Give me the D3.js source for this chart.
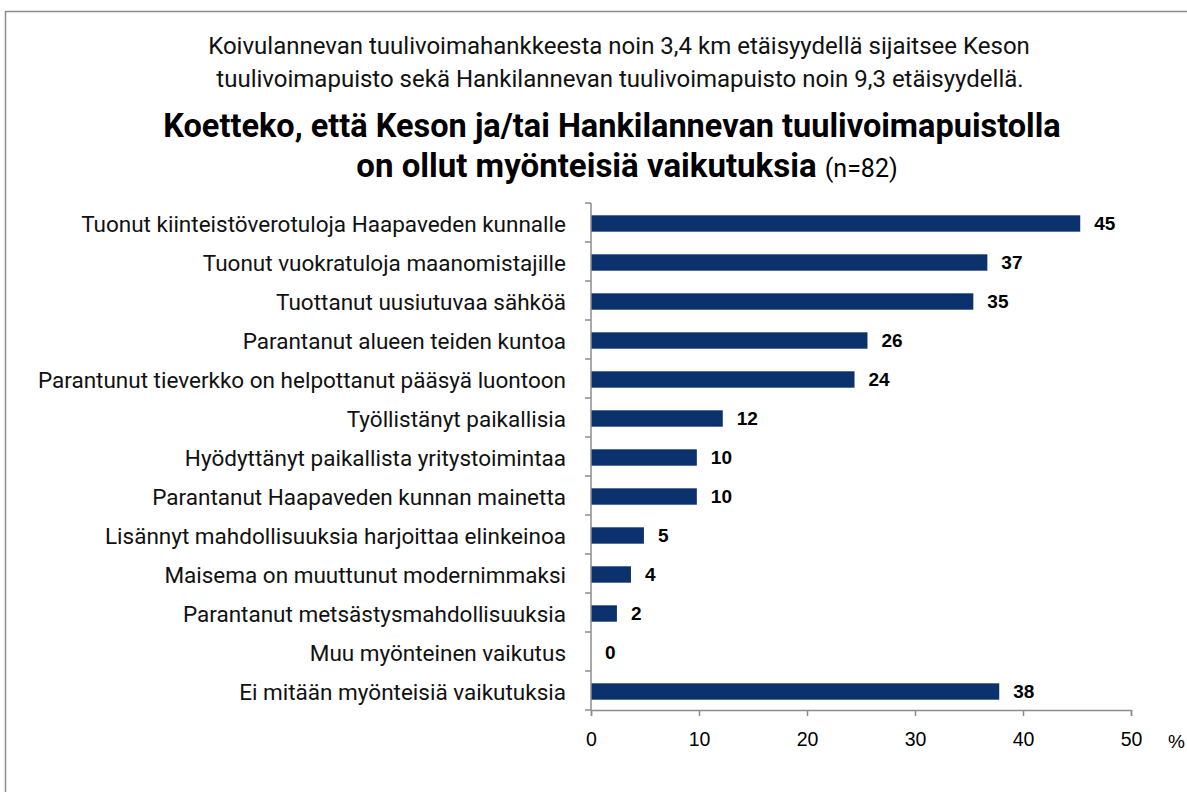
<!DOCTYPE html>
<html lang="fi">
<head>
<meta charset="utf-8">
<title>Myönteiset vaikutukset</title>
<script src="https://d3js.org/d3.v7.min.js"></script>
<style>
  body { margin: 0; background: #fff; }
  svg { display: block; }
</style>
</head>
<body>
<div id="chart"></div>
<script>
// categories and values (%)
const categories = [
  "Tuonut kiinteistöverotuloja Haapaveden kunnalle",
  "Tuonut vuokratuloja maanomistajille",
  "Tuottanut uusiutuvaa sähköä",
  "Parantanut alueen teiden kuntoa",
  "Parantunut tieverkko on helpottanut pääsyä luontoon",
  "Työllistänyt paikallisia",
  "Hyödyttänyt paikallista yritystoimintaa",
  "Parantanut Haapaveden kunnan mainetta",
  "Lisännyt mahdollisuuksia harjoittaa elinkeinoa",
  "Maisema on muuttunut modernimmaksi",
  "Parantanut metsästysmahdollisuuksia ",
  "Muu myönteinen vaikutus",
  "Ei mitään myönteisiä vaikutuksia"
];
const values = [45.3, 36.7, 35.4, 25.6, 24.4, 12.2, 9.8, 9.8, 4.9, 3.7, 2.4, 0, 37.8];
const xTicks = [0, 10, 20, 30, 40, 50];

const width = 1187, height = 792;
const svg = d3.select("#chart").append("svg")
  .attr("width", width)
  .attr("height", height);

// outer frame
svg.append("rect")
  .attr("x", 5.5).attr("y", 11.5)
  .attr("width", width + 10).attr("height", height + 10)
  .attr("fill", "none")
  .attr("stroke", "#8c8c8c")
  .attr("stroke-width", 1.5);

// titles
const sub = svg.append("g")
  .attr("font-family", "Roboto, sans-serif")
  .attr("font-size", 24)
  .attr("fill", "#111")
  .attr("text-anchor", "middle");
sub.append("text").attr("x", 619).attr("y", 54)
  .text("Koivulannevan tuulivoimahankkeesta noin 3,4 km etäisyydellä sijaitsee Keson");
sub.append("text").attr("x", 620).attr("y", 87)
  .text("tuulivoimapuisto sekä Hankilannevan tuulivoimapuisto noin 9,3 etäisyydellä.");

const title = svg.append("g")
  .attr("font-family", "Roboto, sans-serif")
  .attr("fill", "#000")
  .attr("text-anchor", "middle");
title.append("text").attr("x", 612).attr("y", 137)
  .attr("font-size", 32.5).attr("font-weight", "bold")
  .text("Koetteko, että Keson ja/tai Hankilannevan tuulivoimapuistolla");
const t2 = title.append("text").attr("x", 627).attr("y", 177);
t2.append("tspan").attr("font-size", 33).attr("font-weight", "bold")
  .text("on ollut myönteisiä vaikutuksia ");
t2.append("tspan").attr("font-size", 25).text("(n=82)");

// scales
const x = d3.scaleLinear().domain([0, 50]).range([591, 1131]);
const y = d3.scaleBand().domain(categories).range([203, 710]).paddingInner(0.58).paddingOuter(0.29);

const axisColor = "#8c8c8c";

// bars
svg.append("g").selectAll("rect")
  .data(values)
  .join("rect")
  .attr("x", x(0))
  .attr("y", (d, i) => y(categories[i]) + 1)
  .attr("width", d => x(d) - x(0))
  .attr("height", y.bandwidth())
  .attr("fill", "#0b326c");

// value labels
svg.append("g").selectAll("text")
  .data(values)
  .join("text")
  .attr("x", d => x(d) + 14)
  .attr("y", (d, i) => y(categories[i]) + y.bandwidth() / 2 + 1)
  .attr("dy", "0.36em")
  .attr("font-family", "Liberation Sans, Arial, sans-serif")
  .attr("font-size", 19)
  .attr("font-weight", "bold")
  .attr("fill", "#000")
  .text(d => Math.round(d));

// category labels
svg.append("g").selectAll("text")
  .data(categories)
  .join("text")
  .attr("x", 566)
  .attr("y", d => y(d) + y.bandwidth() / 2 + 1)
  .attr("dy", "0.36em")
  .attr("text-anchor", "end")
  .attr("font-family", "Roboto, sans-serif")
  .attr("font-size", 22.5)
  .attr("fill", "#111")
  .text(d => d);

// y axis line with ticks between categories
const step = y.step();
const yAxis = svg.append("g").attr("stroke", axisColor).attr("stroke-width", 1.5);
yAxis.append("line")
  .attr("x1", x(0)).attr("x2", x(0))
  .attr("y1", 203).attr("y2", 710);
yAxis.selectAll("line.tick")
  .data(d3.range(categories.length + 1))
  .join("line")
  .attr("class", "tick")
  .attr("x1", x(0) - 6).attr("x2", x(0))
  .attr("y1", i => 203 + i * step).attr("y2", i => 203 + i * step);

// x axis
const xAxis = svg.append("g")
  .attr("transform", "translate(0,710)")
  .call(d3.axisBottom(x).tickValues(xTicks).tickSize(6).tickPadding(16));
xAxis.select(".domain").attr("stroke", axisColor).attr("stroke-width", 1.5);
xAxis.selectAll(".tick line").attr("stroke", axisColor).attr("stroke-width", 1.5);
xAxis.selectAll(".tick text")
  .attr("font-family", "Liberation Sans, Arial, sans-serif")
  .attr("font-size", 19.5)
  .attr("fill", "#000");

svg.append("text")
  .attr("x", 1168).attr("y", 748)
  .attr("font-family", "Liberation Sans, Arial, sans-serif")
  .attr("font-size", 19)
  .attr("fill", "#000")
  .text("%");
</script>
</body>
</html>
